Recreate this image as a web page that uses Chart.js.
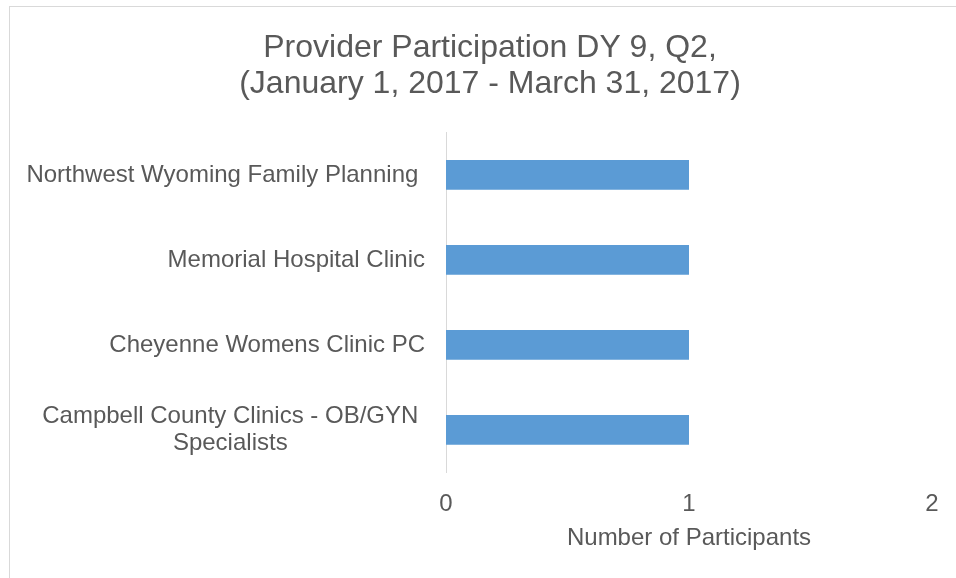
<!DOCTYPE html>
<html>
<head>
<meta charset="utf-8">
<script src="https://cdn.jsdelivr.net/npm/chart.js@4/dist/chart.umd.min.js"></script>
<style>
  html, body { margin: 0; padding: 0; background: #ffffff; overflow: hidden; width: 956px; height: 578px; }
  #frame { position: absolute; left: 9px; top: 6px; width: 957px; height: 600px; border: 1px solid #d9d9d9; background: #fff; }
  canvas { display: block; }
</style>
</head>
<body>
<div id="frame"><canvas id="c" width="957" height="600"></canvas></div>
<script>
const titleLines = ["Provider Participation DY 9, Q2,", "(January 1, 2017 - March 31, 2017)"];
const categories = [
  ["Northwest Wyoming Family Planning "],
  ["Memorial Hospital Clinic"],
  ["Cheyenne Womens Clinic PC"],
  ["Campbell County Clinics - OB/GYN ", "Specialists"]
];
const participants = [1, 1, 1, 1];
const xTickValues = [0, 1, 2];
const xAxisTitle = "Number of Participants";

const FONT = '"Liberation Sans", Arial, sans-serif';
const TEXT = '#595959';

const yLabelPlugin = {
  id: 'yLabels',
  afterDraw(chart) {
    const ctx = chart.ctx;
    const y = chart.scales.y;
    const area = chart.chartArea;
    ctx.save();
    ctx.font = '24px ' + FONT;
    ctx.fillStyle = TEXT;
    ctx.textBaseline = 'middle';
    ctx.textAlign = 'center';
    const rightX = area.left - 21;
    const lh = 27;
    categories.forEach((lines, i) => {
      const cy = y.getPixelForTick(i);
      let wFull = 0, wTrim = 0;
      lines.forEach(l => {
        const f = ctx.measureText(l).width;
        if (f > wFull) { wFull = f; wTrim = ctx.measureText(l.trim()).width; }
      });
      const cx = rightX - wFull + wTrim / 2;
      const y0 = cy - (lines.length - 1) * lh / 2;
      lines.forEach((l, k) => ctx.fillText(l.trim(), cx, y0 + k * lh));
    });
    ctx.restore();
  }
};

new Chart(document.getElementById('c'), {
  type: 'bar',
  data: {
    labels: categories,
    datasets: [{
      data: participants,
      backgroundColor: '#5B9BD5',
      borderWidth: 0,
      categoryPercentage: 0.7,
      barPercentage: 0.5
    }]
  },
  options: {
    indexAxis: 'y',
    responsive: false,
    animation: false,
    layout: { padding: { left: 38, right: 35, top: 0, bottom: 50.5 } },
    plugins: {
      legend: { display: false },
      tooltip: { enabled: false },
      title: {
        display: true,
        text: titleLines,
        color: TEXT,
        font: { family: FONT, size: 32, weight: 'normal', lineHeight: 1.1 },
        padding: { top: 24, bottom: 31 }
      }
    },
    scales: {
      y: {
        type: 'category',
        grid: { display: false, drawTicks: false },
        border: { display: true, color: '#d9d9d9', width: 1 },
        ticks: { display: false },
        afterFit(scale) { scale.width = 398; }
      },
      x: {
        type: 'linear',
        min: 0,
        max: 2,
        afterBuildTicks(scale) { scale.ticks = xTickValues.map(v => ({ value: v })); },
        grid: { display: false, drawTicks: false },
        border: { display: false },
        ticks: {
          color: TEXT,
          padding: 17,
          font: { family: FONT, size: 24 }
        },
        title: {
          display: true,
          text: xAxisTitle,
          color: TEXT,
          font: { family: FONT, size: 24 },
          padding: { top: 4, bottom: 4 }
        },
        afterFit(scale) { scale.height = 84; }
      }
    }
  },
  plugins: [yLabelPlugin]
});
</script>
</body>
</html>
